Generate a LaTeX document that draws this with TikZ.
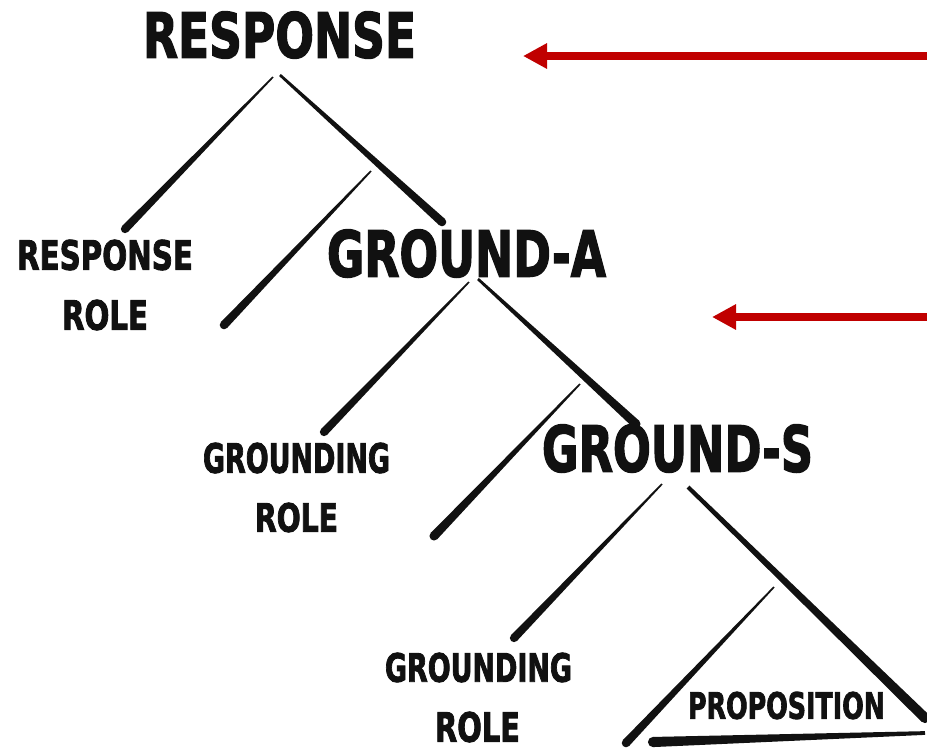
\documentclass[tikz,border=0pt]{standalone}
\usepackage{fontspec}
\usepackage{graphicx}
\newfontfamily\brushfont{DejaVu Sans}[BoldFeatures={FakeBold=2.5}]
\usetikzlibrary{calc,arrows.meta}
\definecolor{ink}{HTML}{111111}
\definecolor{arrowred}{HTML}{C00000}
\newdimen\px \px=0.75pt
\newcommand\bt[3]{\resizebox{#1\px}{#2\px}{\brushfont\bfseries #3}}
\newcommand\brushline[4]{%
  \fill[ink] ($(#1)!#3!90:(#2)$) -- ($(#2)!#4!-90:(#1)$) -- ($(#2)!#4!90:(#1)$) -- ($(#1)!#3!-90:(#2)$) -- cycle;
  \fill[ink] (#2) circle[radius=#4];}
\begin{document}
\begin{tikzpicture}[x=0.75pt,y=-0.75pt,
  lbl/.style={inner sep=0pt, text=ink},
  redarrow/.style={draw=arrowred, line width=6pt, -{Triangle[length=18pt,width=18pt,fill=arrowred]}}]
\useasboundingbox[fill=white] (0,0) rectangle (927,751);
% labels
\node[lbl] (response) at (279.5,35) {\bt{273}{46}{RESPONSE}};
\node[lbl] (respRoleA) at (105,255) {\bt{176}{30}{RESPONSE}};
\node[lbl] (respRoleB) at (105,315) {\bt{86}{30}{ROLE}};
\node[lbl] (groundA) at (466.5,253.5) {\bt{279}{47}{GROUND-A}};
\node[lbl] (grRoleA) at (296.5,458) {\bt{187}{30}{GROUNDING}};
\node[lbl] (grRoleB) at (296.5,517.5) {\bt{83}{29}{ROLE}};
\node[lbl] (groundS) at (677.5,448.5) {\bt{271}{47}{GROUND-S}};
\node[lbl] (grRoleC) at (478.5,667.5) {\bt{187}{29}{GROUNDING}};
\node[lbl] (grRoleD) at (477.5,727) {\bt{85}{30}{ROLE}};
\node[lbl] (prop) at (786.5,705.5) {\bt{197}{27}{PROPOSITION}};
% branch end points
\coordinate (r1t) at (273,77);  \coordinate (r1b) at (125,229);
\coordinate (r2t) at (280,75);  \coordinate (r2b) at (442,222);
\coordinate (i1t) at (371,171); \coordinate (i1b) at (224,325);
\coordinate (a1t) at (469,282); \coordinate (a1b) at (324,432);
\coordinate (a2t) at (478,279); \coordinate (a2b) at (636,424);
\coordinate (i2t) at (580,384); \coordinate (i2b) at (434,536);
\coordinate (s1t) at (662,484); \coordinate (s1b) at (514,638);
\coordinate (s2t) at (688,487); \coordinate (s2b) at (925,718);
\coordinate (i3t) at (774,587); \coordinate (i3b) at (626,743);
\coordinate (bt) at (925,733);  \coordinate (bb) at (653,742);
% strokes
\brushline{r1t}{r1b}{0.6pt}{3.1pt}
\brushline{r2t}{r2b}{1pt}{3.2pt}
\brushline{i1t}{i1b}{0.6pt}{3.2pt}
\brushline{a1t}{a1b}{0.6pt}{3.1pt}
\brushline{a2t}{a2b}{1pt}{3.4pt}
\brushline{i2t}{i2b}{0.6pt}{3.4pt}
\brushline{s1t}{s1b}{0.6pt}{3.1pt}
\brushline{s2t}{s2b}{1.5pt}{3.8pt}
\brushline{i3t}{i3b}{0.6pt}{3.2pt}
\brushline{bt}{bb}{1.4pt}{3.8pt}
% red arrows
\coordinate (arrAs) at (927,56); \coordinate (arrAe) at (523,56);
\coordinate (arrBs) at (927,317); \coordinate (arrBe) at (712,317);
\draw[redarrow] (arrAs) -- (arrAe);
\draw[redarrow] (arrBs) -- (arrBe);
\end{tikzpicture}
\end{document}
